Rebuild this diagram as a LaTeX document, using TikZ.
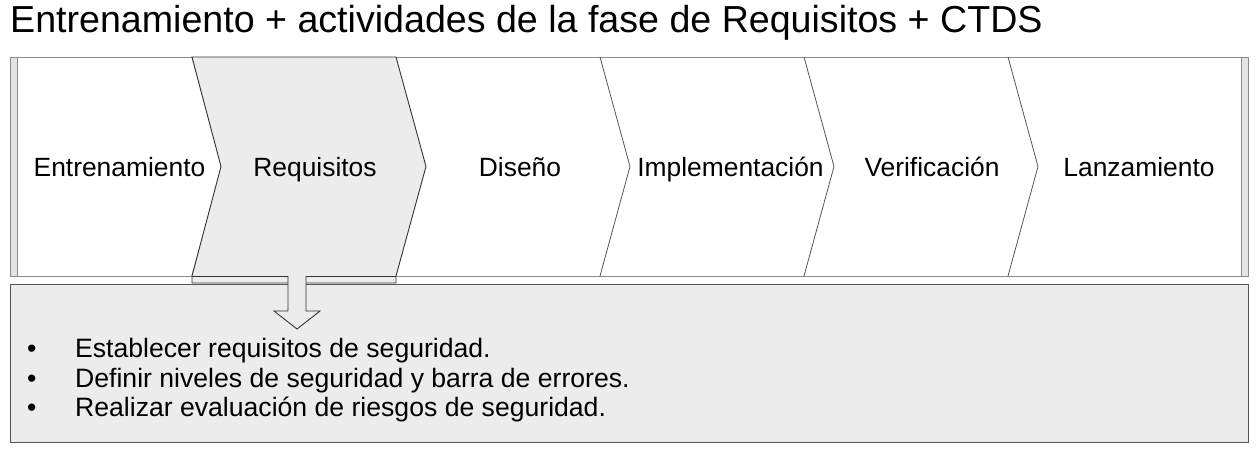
\documentclass[tikz,border=0pt]{standalone}
\usepackage{fontspec}
\setmainfont{Liberation Sans}
\definecolor{boxgray}{HTML}{ECECEC}
\definecolor{stripgray}{HTML}{E4E4E4}
\definecolor{framegray}{HTML}{8A8A8A}
\definecolor{linegray}{HTML}{555555}
\definecolor{darkline}{HTML}{333333}
\tikzset{
  lbl/.style={font=\fontsize{26.4}{30}\selectfont, anchor=base, inner sep=0pt},
  bul/.style={font=\fontsize{26.6}{30}\selectfont, anchor=base west, inner sep=0pt},
  sep/.style={draw=linegray, line width=0.8pt},
}
\begin{document}
\begin{tikzpicture}[x=1pt,y=-1pt]
\useasboundingbox (0,0) rectangle (1258,450);
% title
\node[font=\fontsize{37.6}{40}\selectfont, anchor=base west, inner sep=0pt] (title) at (10,32.7) {Entrenamiento + actividades de la fase de Requisitos + CTDS};
% bottom box
\draw[fill=boxgray, draw=linegray, line width=1pt] (10,284) rectangle (1248,442.5);
% band
\draw[fill=stripgray, draw=framegray, line width=0.8pt] (10,57) rectangle (1248,276);
\draw[fill=white, draw=framegray, line width=0.8pt] (17,57) rectangle (1241,276);
% separators
\foreach \b in {192,600,804,1008}{
  \draw[sep] (\b,57) -- (\b+30,166.5) -- (\b,276);
}
% requisitos shape
\draw[fill=boxgray, draw=darkline, line width=0.9pt] (192,57) -- (396,57) -- (426,166.5) -- (396,276) -- (396,283) -- (192,283) -- (192,276) -- (221,166.5) -- cycle;
\draw[draw=darkline, line width=0.9pt] (192,276) -- (396,276);
% arrow
\fill[boxgray] (288,274) -- (288,311) -- (274,311) -- (297,329) -- (320,311) -- (306,311) -- (306,274) -- cycle;
\draw[draw=darkline, line width=0.9pt, line join=miter] (288,276) -- (288,311) -- (274,311) -- (297,329) -- (320,311) -- (306,311) -- (306,276);
% labels
\node[lbl] (entr) at (119.5,176) {Entrenamiento};
\node[lbl] (req) at (315,176) {Requisitos};
\node[lbl] (dis) at (520,176) {Diseño};
\node[lbl] (impl) at (730.5,176) {Implementación};
\node[lbl] (ver) at (932,176) {Verificación};
\node[lbl] (lanz) at (1139,176) {Lanzamiento};
% bullets
\node[bul] (b1) at (27,357) {•};
\node[bul] (t1) at (75,357) {Establecer requisitos de seguridad.};
\node[bul] (b2) at (27,387) {•};
\node[bul] (t2) at (75,387) {Definir niveles de seguridad y barra de errores.};
\node[bul] (b3) at (27,416) {•};
\node[bul] (t3) at (75,416) {Realizar evaluación de riesgos de seguridad.};
\end{tikzpicture}
\end{document}
